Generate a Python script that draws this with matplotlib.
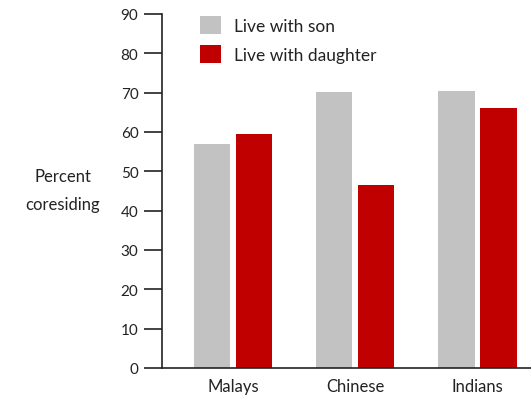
import matplotlib
matplotlib.use("Agg")
import matplotlib.pyplot as plt
import numpy as np
from matplotlib.patches import Patch

categories = ["Malays", "Chinese", "Indians"]
son = [57, 70.2, 70.3]
daughter = [59.6, 46.6, 66]
yticks = [0, 10, 20, 30, 40, 50, 60, 70, 80, 90]

plt.rcParams['font.family'] = ['Lato', 'DejaVu Sans']
txt = '#222222'
grey = '#c2c2c2'
red = '#c00000'

fig = plt.figure(figsize=(5.31, 4.02), dpi=100)
ax = fig.add_axes([162/531, 1-369/402, 1-162/531, (369-15)/402])

x = np.arange(len(categories))
w = 0.30
off = 0.172
ax.bar(x - off, son, w, color=grey, label="Live with son")
ax.bar(x + off, daughter, w, color=red, label="Live with daughter")

ax.set_ylim(0, 90)
ax.set_xlim(-0.58, 2.44)
ax.set_yticks(yticks)
ax.set_xticks(x)
ax.set_xticklabels(categories)
ax.tick_params(axis='y', length=13, width=1.2, color=txt, labelcolor=txt, labelsize=11, pad=4)
ax.tick_params(axis='x', length=0, labelcolor=txt, labelsize=12, pad=7)
for s in ['top', 'right']:
    ax.spines[s].set_visible(False)
for s in ['left', 'bottom']:
    ax.spines[s].set_color(txt)
    ax.spines[s].set_linewidth(1.2)

fig.text(63/531, 1-191/402, "Percent\ncoresiding", ha='center', va='center',
         fontsize=12, color=txt, linespacing=1.95)

handles = [Patch(facecolor=grey), Patch(facecolor=red)]
ax.legend(handles, ["Live with son", "Live with daughter"], loc='upper left',
          bbox_to_anchor=((200-162)/(531-162), 0.995), frameon=False, fontsize=12.5,
          labelcolor=txt, handlelength=1.2, handleheight=1.25, handletextpad=0.75,
          labelspacing=0.6, borderaxespad=0, borderpad=0)

fig.savefig("out.png", dpi=100)
